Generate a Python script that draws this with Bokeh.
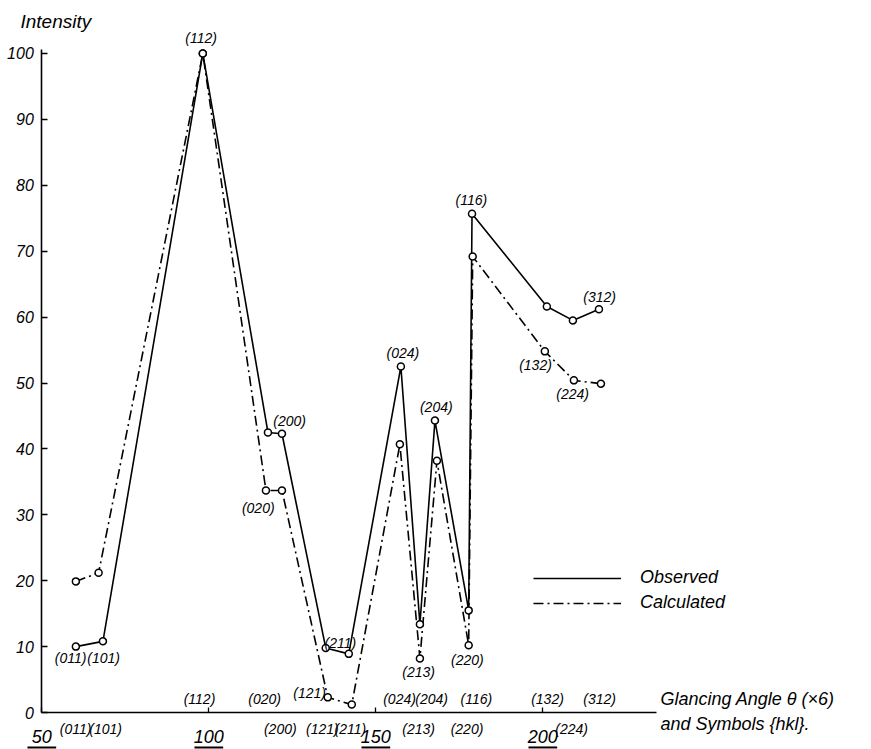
from bokeh.plotting import figure
from bokeh.models import (LinearAxis, FixedTicker, Range1d, Legend, LegendItem,
                          ColumnDataSource)
from bokeh.core.properties import value
from bokeh.embed import file_html
from bokeh.resources import INLINE

# ---------------- data ----------------
# observed intensities (solid line)
x_obs = [60.2, 68.3, 98.2, 117.7, 121.9, 135.0, 141.9, 157.5, 163.2, 167.7, 177.8, 178.8, 201.2, 209.0, 216.8]
y_obs = [10.0, 10.8, 100.0, 42.5, 42.3, 9.8, 8.9, 52.5, 13.4, 44.3, 15.5, 75.7, 61.6, 59.5, 61.2]
# calculated intensities (dash-dot line)
x_calc = [60.2, 67.0, 98.2, 117.1, 121.9, 135.6, 142.8, 157.2, 163.2, 168.3, 177.8, 179.0, 200.6, 209.3, 217.4]
y_calc = [19.9, 21.2, 100.0, 33.7, 33.7, 2.3, 1.2, 40.7, 8.2, 38.2, 10.2, 69.2, 54.8, 50.4, 49.9]

# hkl labels beside the points
pt_text = ["(011)", "(101)", "(112)", "(200)", "(020)", "(211)", "(121)", "(024)",
           "(213)", "(204)", "(220)", "(116)", "(132)", "(224)", "(312)"]
pt_x = [58.6, 68.5, 97.7, 124.2, 114.8, 139.4, 130.2, 158.1, 162.8, 168.1, 177.4, 178.6, 197.8, 208.9, 217.0]
pt_y = [8.3, 8.3, 102.3, 44.3, 31.1, 10.6, 2.9, 54.5, 6.1, 46.3, 7.9, 77.8, 52.7, 48.4, 63.1]

# hkl symbols along the angle axis
above_text = ["(112)", "(020)", "(024)", "(204)", "(116)", "(132)", "(312)"]
above_x = [97.2, 116.7, 157.1, 166.7, 180.1, 201.4, 217.0]
below_text = ["(011)", "(101)", "(200)", "(121)", "(211)", "(213)", "(220)", "(224)"]
below_x = [60.1, 69.1, 121.4, 134.0, 142.4, 162.8, 177.3, 208.6]

x_ticks = [50, 100, 150, 200]
y_ticks = [0, 10, 20, 30, 40, 50, 60, 70, 80, 90, 100]

FONT = "Liberation Sans"

# ---------------- figure ----------------
p = figure(width=871, height=749, output_backend="svg", toolbar_location=None,
           x_range=Range1d(37.63, 298.4), y_range=Range1d(-5.61, 108.04),
           x_axis_type=None, y_axis_type=None,
           min_border=0, min_border_left=0, min_border_right=0,
           min_border_top=0, min_border_bottom=0)
p.outline_line_color = None
p.xgrid.visible = False
p.ygrid.visible = False
p.background_fill_color = "white"

yaxis = LinearAxis(fixed_location=50, bounds=(0, 100.6), ticker=FixedTicker(ticks=y_ticks),
                   major_tick_in=6, major_tick_out=0, minor_tick_in=0, minor_tick_out=0,
                   axis_line_width=1.6, major_tick_line_width=1.3,
                   major_label_standoff=8,
                   major_label_text_font=FONT, major_label_text_font_style="italic",
                   major_label_text_font_size="16px", major_label_text_color="black")
p.add_layout(yaxis, "left")

xaxis = LinearAxis(fixed_location=0, bounds=(50, 234), ticker=FixedTicker(ticks=x_ticks),
                   major_tick_in=5, major_tick_out=0, minor_tick_in=0, minor_tick_out=0,
                   axis_line_width=1.6, major_tick_line_width=1.3,
                   major_label_standoff=17,
                   major_label_text_font=FONT, major_label_text_font_style="italic",
                   major_label_text_font_size="18px", major_label_text_color="black")
p.add_layout(xaxis, "below")

# underlines beneath the angle numbers
p.segment(x0=[t - 4.3 for t in x_ticks], x1=[t + 4.3 for t in x_ticks],
          y0=[-5.3] * len(x_ticks), y1=[-5.3] * len(x_ticks),
          line_color="black", line_width=2)

# ---------------- series ----------------
r_obs = p.line(x_obs, y_obs, line_color="black", line_width=1.6)
r_calc = p.line(x_calc, y_calc, line_color="black", line_width=1.6, line_dash="10 4 2 4")
p.scatter(x_obs, y_obs, marker="circle", size=7, fill_color="white",
          line_color="black", line_width=1.5)
p.scatter(x_calc, y_calc, marker="circle", size=7, fill_color="white",
          line_color="black", line_width=1.5)

# ---------------- texts ----------------
def txt(xs, ys, texts, size, align="center"):
    src = ColumnDataSource(dict(x=xs, y=ys, t=texts))
    p.text(x="x", y="y", text="t", source=src, text_font=value(FONT),
           text_font_style="italic", text_font_size=size, text_align=align,
           text_baseline="middle", text_color="black")

txt(pt_x, pt_y, pt_text, "14px")
txt(above_x, [2.0] * len(above_x), above_text, "14px")
txt(below_x, [-2.5] * len(below_x), below_text, "14px")
txt([43.6], [104.9], ["Intensity"], "19px", align="left")
txt([235.2, 235.2], [2.0, -1.8], ["Glancing Angle \u03b8 (\u00d76)", "and  Symbols {hkl}."],
    "18px", align="left")

legend = Legend(items=[LegendItem(label="Observed", renderers=[r_obs]),
                       LegendItem(label="Calculated", renderers=[r_calc])],
                location=(533, 136), glyph_width=88, glyph_height=20, spacing=4,
                padding=0, margin=0, label_standoff=19, border_line_color=None,
                background_fill_alpha=0, label_text_font=FONT,
                label_text_color="black",
                label_text_font_style="italic", label_text_font_size="18px")
p.add_layout(legend)

open("out.html", "w").write(file_html(p, INLINE))
